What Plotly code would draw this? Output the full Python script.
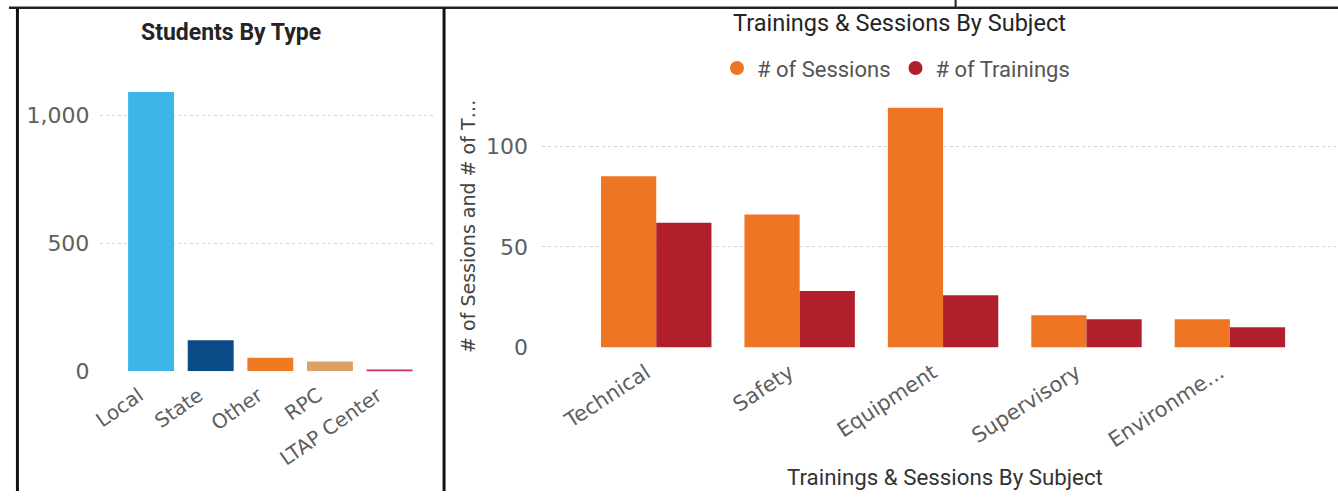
import plotly.graph_objects as go

W, H = 1338, 504

# ---- data ----
student_types = ["Local", "State", "Other", "RPC", "LTAP Center"]
student_counts = [1091, 121, 52, 38, 7]
type_colors = ["#3DB5E6", "#0A4A87", "#F07A21", "#DBA264", "#C4305E"]

subject_labels = ["Technical", "Safety", "Equipment", "Supervisory", "Environme..."]
sessions = [85, 66, 119, 16, 14]
trainings = [62, 28, 26, 14, 10]
sessions_color = "#EE7524"
trainings_color = "#B11F2C"

left_ticks = [0, 500, 1000]
left_ticktext = ["0", "500", "1,000"]
right_ticks = [0, 50, 100]


def px_x(p):
    return p / W


def px_y(p):
    return 1 - p / H


sans = "DejaVu Sans, Open Sans, sans-serif"
tick_font = dict(family=sans, size=22, color="#5E5E5E")
xtick_font = dict(family=sans, size=20, color="#5E5E5E")
xtick_font2 = dict(family=sans, size=21, color="#5E5E5E")
cond = "Roboto, Noto Sans, sans-serif"

fig = go.Figure()

fig.add_trace(go.Bar(
    x=student_types, y=student_counts, marker=dict(color=type_colors, line=dict(width=0)),
    xaxis="x", yaxis="y", showlegend=False,
))

fig.add_trace(go.Bar(
    x=subject_labels, y=sessions, name="# of Sessions",
    marker=dict(color=sessions_color, line=dict(width=0)),
    xaxis="x2", yaxis="y2", showlegend=False, offsetgroup="s",
))
fig.add_trace(go.Bar(
    x=subject_labels, y=trainings, name="# of Trainings",
    marker=dict(color=trainings_color, line=dict(width=0)),
    xaxis="x2", yaxis="y2", showlegend=False, offsetgroup="t",
))
# legend entries with circle markers
fig.add_trace(go.Scatter(x=[None], y=[None], mode="markers", name="# of Sessions",
                         marker=dict(symbol="circle", size=14, color=sessions_color),
                         xaxis="x2", yaxis="y2"))
fig.add_trace(go.Scatter(x=[None], y=[None], mode="markers", name="# of Trainings",
                         marker=dict(symbol="circle", size=14, color=trainings_color),
                         xaxis="x2", yaxis="y2"))

grid = dict(showgrid=True, gridcolor="#D4D4D4", griddash="dot", gridwidth=1,
            zeroline=False, showline=False, ticks="")

fig.update_layout(
    width=W, height=H, autosize=False,
    margin=dict(l=0, r=0, t=0, b=0),
    paper_bgcolor="white", plot_bgcolor="white",
    barmode="group", bargap=0.23, bargroupgap=0,
    xaxis=dict(domain=[px_x(92), px_x(430)], range=[-0.85, 4.78], type="category",
               showgrid=False, zeroline=False, showline=False, ticks="",
               tickangle=-35, tickfont=xtick_font, anchor="y",
               ticklabelshift=-12, ticklabelstandoff=8),
    yaxis=dict(domain=[px_y(381), px_y(80)], range=[0, 1146], tickvals=left_ticks,
               ticktext=left_ticktext, tickfont=tick_font, anchor="x",
               ticklabelstandoff=10, **grid),
    xaxis2=dict(domain=[px_x(536.7), px_x(1336)], range=[-0.796, 4.74], type="category",
                showgrid=False, zeroline=False, showline=False, ticks="",
                tickangle=-33, tickfont=xtick_font2, anchor="y2",
                ticklabelshift=-10, ticklabelstandoff=8),
    yaxis2=dict(domain=[px_y(356.7), px_y(95)], range=[0, 126.6], tickvals=right_ticks,
                tickfont=tick_font, anchor="x2", ticklabelstandoff=13, **grid),
    legend=dict(orientation="h", x=px_x(893), xanchor="center", y=px_y(70), yanchor="middle",
                font=dict(family=cond, size=22, color="#555555"),
                itemwidth=30, tracegroupgap=0, bgcolor="rgba(0,0,0,0)"),
)

annotations = [
    dict(text="<b>Students By Type</b>", x=px_x(223), y=px_y(33), xref="paper", yref="paper",
         showarrow=False, font=dict(family=cond, size=23, color="#252423"), xanchor="center", yanchor="middle"),
    dict(text="Trainings & Sessions By Subject", x=px_x(897), y=px_y(24), xref="paper", yref="paper",
         showarrow=False, font=dict(family=cond, size=23.5, color="#252423"), xanchor="center", yanchor="middle"),
    dict(text="Trainings & Sessions By Subject", x=px_x(942), y=px_y(490), xref="paper", yref="paper",
         showarrow=False, font=dict(family=cond, size=22.3, color="#333333"), xanchor="center", yanchor="middle"),
    dict(text="# of Sessions and # of T…", x=px_x(462), y=px_y(232), xref="paper", yref="paper",
         showarrow=False, textangle=-90, font=dict(family=sans, size=19, color="#444444"),
         xanchor="center", yanchor="middle"),
]
fig.update_layout(annotations=annotations)

line = dict(color="#111111", width=3)
shapes = [
    dict(type="line", xref="paper", yref="paper", x0=px_x(0), x1=px_x(W), y0=px_y(8), y1=px_y(8),
         line=dict(color="#222222", width=2.5)),
    dict(type="line", xref="paper", yref="paper", x0=px_x(8.5), x1=px_x(8.5), y0=px_y(8), y1=0, line=line),
    dict(type="line", xref="paper", yref="paper", x0=px_x(438), x1=px_x(438), y0=px_y(8), y1=0, line=line),
    dict(type="line", xref="paper", yref="paper", x0=px_x(953), x1=px_x(953), y0=1, y1=px_y(8),
         line=dict(color="#222222", width=2)),
]
fig.update_layout(shapes=shapes)

fig.write_html("out.html")
